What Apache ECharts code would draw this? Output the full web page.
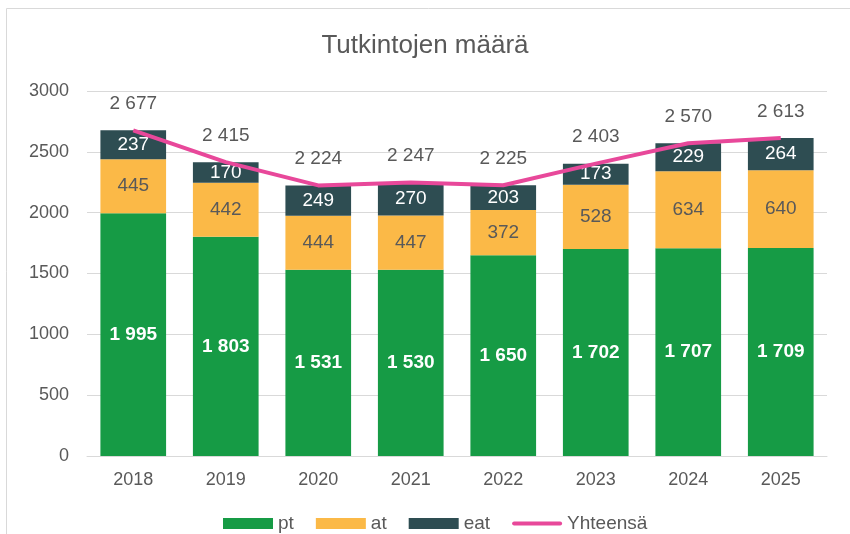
<!DOCTYPE html>
<html><head><meta charset="utf-8">
<script src="https://cdn.jsdelivr.net/npm/echarts@6/dist/echarts.min.js"></script>
<style>html,body{margin:0;padding:0;background:#fff}#c{width:850px;height:534px}</style>
</head><body><div id="c"></div>
<script>
const years = ['2018','2019','2020','2021','2022','2023','2024','2025'];
const pt = [1995,1803,1531,1530,1650,1702,1707,1709];
const at = [445,442,444,447,372,528,634,640];
const eat = [237,170,249,270,203,173,229,264];
const total = [2677,2415,2224,2247,2225,2403,2570,2613];
const yTicks = [0,500,1000,1500,2000,2500,3000];

const fmt = v => String(v).replace(/\B(?=(\d{3})+(?!\d))/g, ' ');
const F = 'Liberation Sans, Arial, sans-serif';
const chart = echarts.init(document.getElementById('c'), null, {renderer:'canvas'});
chart.setOption({
  animation:false,
  textStyle:{fontFamily:F},
  title:{text:'Tutkintojen määrä',left:'center',top:28,textStyle:{fontFamily:F,fontSize:26,fontWeight:'normal',color:'#595959'}},
  graphic:[{type:'rect',shape:{x:6.5,y:8.5,width:860,height:560},style:{fill:'none',stroke:'#d9d9d9',lineWidth:1},silent:true,z:-1}],
  legend:{top:509,left:218,itemGap:22,itemWidth:50,itemHeight:11,textStyle:{fontFamily:F,fontSize:19,color:'#595959'},
    data:[{name:'pt',icon:'rect'},{name:'at',icon:'rect'},{name:'eat',icon:'rect'},
      {name:'Yhteensä',icon:'path://M2,0 L48,0 A2,2 0 0 1 48,4 L2,4 A2,2 0 0 1 2,0 Z'}]},
  grid:{left:87,right:23,top:91,bottom:78},
  xAxis:{type:'category',data:years,axisTick:{show:false},axisLine:{lineStyle:{color:'#d9d9d9'}},
    axisLabel:{fontFamily:F,fontSize:18,color:'#595959',margin:15}},
  yAxis:{type:'value',min:yTicks[0],max:yTicks[yTicks.length-1],interval:500,
    axisLabel:{fontFamily:F,fontSize:18,color:'#595959',margin:18,formatter:v=>String(v)},
    splitLine:{lineStyle:{color:'#d9d9d9'}},axisLine:{show:false}},
  series:[
    {name:'pt',type:'bar',stack:'s',data:pt,barWidth:'71%',itemStyle:{color:'#169B45'},
      label:{show:true,position:'inside',formatter:p=>fmt(p.value),color:'#fff',fontWeight:'bold',fontSize:19,fontFamily:F}},
    {name:'at',type:'bar',stack:'s',data:at,itemStyle:{color:'#FBB947'},
      label:{show:true,position:'inside',formatter:p=>fmt(p.value),color:'#595959',fontSize:19,fontFamily:F}},
    {name:'eat',type:'bar',stack:'s',data:eat,itemStyle:{color:'#2E4D52'},
      label:{show:true,position:'inside',formatter:p=>fmt(p.value),color:'#fff',fontSize:19,fontFamily:F}},
    {name:'Yhteensä',type:'line',data:total,symbol:'circle',symbolSize:0.01,showSymbol:true,
      lineStyle:{color:'#E8489A',width:4},itemStyle:{color:'#E8489A'},
      label:{show:true,position:'top',distance:17,formatter:p=>fmt(p.value),color:'#595959',fontSize:19,fontFamily:F},z:5}
  ]
});
</script></body></html>
